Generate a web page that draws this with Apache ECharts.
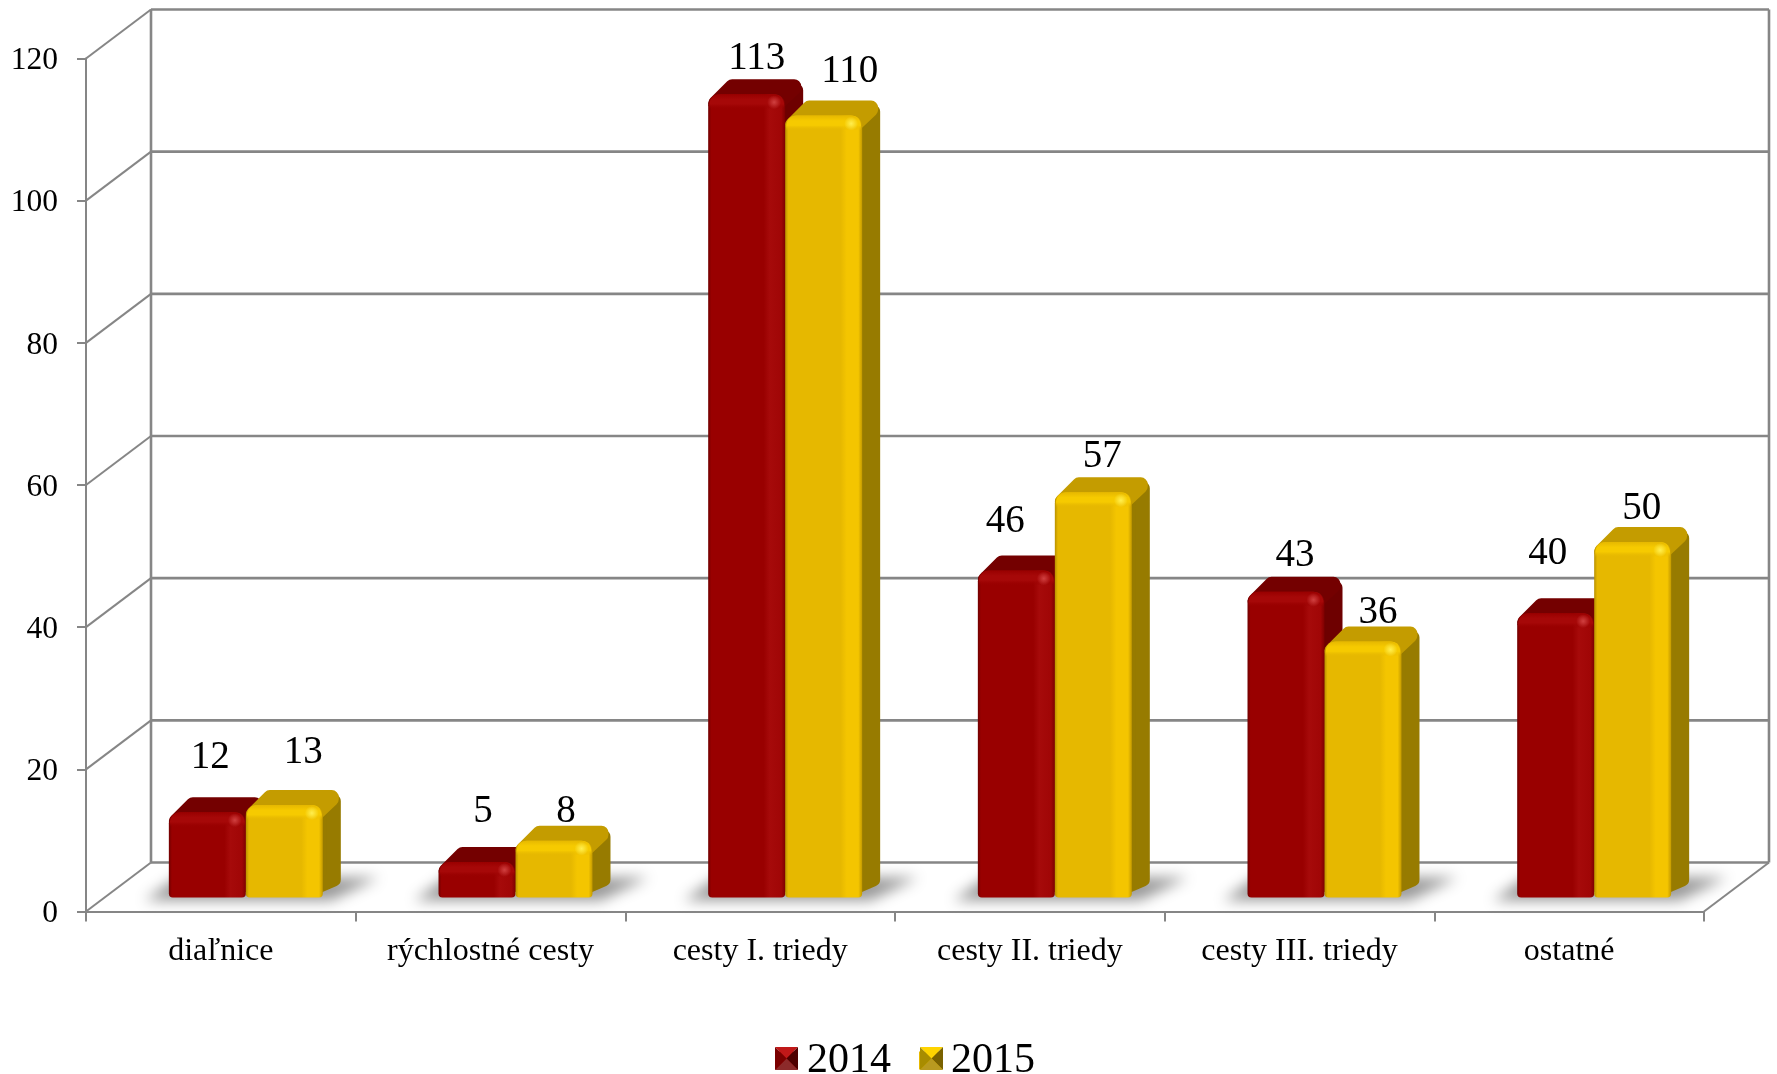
<!DOCTYPE html>
<html>
<head>
<meta charset="utf-8">
<style>html,body{margin:0;padding:0;background:#fff}#c{width:1777px;height:1074px}</style>
<script src="https://cdn.jsdelivr.net/npm/echarts@6/dist/echarts.min.js"></script>
</head>
<body>
<div id="c"></div>
<script>
const categories = ['diaľnice', 'rýchlostné cesty', 'cesty I. triedy', 'cesty II. triedy', 'cesty III. triedy', 'ostatné'];
const values2014 = [12, 5, 113, 46, 43, 40];
const values2015 = [13, 8, 110, 57, 36, 50];
const yTicks = [0, 20, 40, 60, 80, 100, 120];

// manual label placement of the original chart (dx from bar centre, dy above bar back edge)
const labelDx2014 = [3, 6, 10, -11, 9, -8];
const labelDy2014 = [26, 22, 8, 21, 8, 31];
const labelDx2015 = [19, 12, 26, 9, 15, 9];
const labelDy2015 = [24, 1, 16, 8, 1, 5];

const FONT = '"Liberation Serif", "Times New Roman", serif';
const AXIS = '#868686';
const WALL_DX = 65, WALL_DY = -49;
const BAR_SHIFT_X = 25, BAR_SHIFT_Y = -14, DEPTH_X = 18, DEPTH_Y = -15;
const BAR_RATIO = 0.2855;
const LABEL_SIZE = 39, LABEL_TOP_OFFSET = 32.5;

const red = {
  main: '#990000', top: '#740000', side: '#6e0000',
  stops: ['#700000', '#990000', '#990000', '#a60a0a', '#a00606', '#7e0000'],
  bevel: '#a60808', spot: '#d04040'
};
const yellow = {
  main: '#e6b800', top: '#c49c00', side: '#977b00',
  stops: ['#b89000', '#e6b800', '#e6b800', '#f4c500', '#f4c500', '#c49a00'],
  bevel: '#f6ca00', spot: '#ffee50'
};

function roundPoly(points, fill, r) {
  return {
    type: 'polygon', shape: { points },
    style: { fill, stroke: fill, lineWidth: r * 2, lineJoin: 'round' }, silent: true
  };
}

function barRenderer(pal, side, dxs, dys) {
  return function (params, api) {
    const i = api.value(0), v = api.value(1);
    const base = api.coord([i, 0]), tip = api.coord([i, v]);
    const w = api.size([1, 0])[0] * BAR_RATIO;
    const cx = base[0] + BAR_SHIFT_X;
    const x = side < 0 ? cx - w : cx;
    const yB = base[1] + BAR_SHIFT_Y, yT = tip[1] + BAR_SHIFT_Y;
    const h = yB - yT;
    const r = 7;
    const children = [];
    // side face
    children.push(roundPoly([
      [x + w - 10, yT + 10],
      [x + w + DEPTH_X - r, yT + DEPTH_Y + r + 4],
      [x + w + DEPTH_X - r, yB + DEPTH_Y - 3],
      [x + w - 10, yB - r - 2]
    ], pal.side, r));
    // top face
    children.push(roundPoly([
      [x + r, yT + 9],
      [x + DEPTH_X + r - 1, yT + DEPTH_Y + r],
      [x + w + DEPTH_X - r - 2, yT + DEPTH_Y + r],
      [x + w + DEPTH_X - r - 2, yT + DEPTH_Y + r + 2],
      [x + w - 8, yT + 10]
    ], pal.top, r));
    // front face
    const s = pal.stops;
    children.push({
      type: 'rect', silent: true,
      shape: { x, y: yT, width: w, height: h, r: [11, 11, 4, 4] },
      style: {
        fill: {
          type: 'linear', x: 0, y: 0, x2: 1, y2: 0,
          colorStops: [
            { offset: 0, color: s[0] }, { offset: 0.04, color: s[1] },
            { offset: 0.72, color: s[2] }, { offset: 0.8, color: s[3] },
            { offset: 0.95, color: s[4] }, { offset: 1, color: s[5] }
          ]
        }
      }
    });
    // top bevel
    children.push({
      type: 'rect', silent: true,
      shape: { x: x + 1, y: yT, width: w - 2, height: Math.min(15, h), r: [11, 11, 0, 0] },
      style: {
        fill: {
          type: 'linear', x: 0, y: 0, x2: 0, y2: 1,
          colorStops: [
            { offset: 0, color: pal.main }, { offset: 0.35, color: pal.bevel },
            { offset: 0.65, color: pal.bevel }, { offset: 1, color: pal.main + '00' }
          ]
        }
      }
    });
    // corner highlight
    children.push({
      type: 'circle', silent: true,
      shape: { cx: x + w - 11, cy: yT + 8, r: 7 },
      style: {
        fill: {
          type: 'radial', x: 0.5, y: 0.5, r: 0.5,
          colorStops: [
            { offset: 0, color: pal.spot },
            { offset: 1, color: pal.spot + '00' }
          ]
        }
      }
    });
    // value label
    children.push({
      type: 'text', silent: true,
      style: {
        x: x + w / 2 + dxs[i], y: yT + DEPTH_Y - dys[i] - LABEL_TOP_OFFSET,
        text: String(v), fill: '#000',
        font: LABEL_SIZE + 'px ' + FONT, align: 'center', verticalAlign: 'top'
      }
    });
    return { type: 'group', children };
  };
}

function renderFrame(params, api) {
  const cs = params.coordSys;
  const v = api.value(0);
  const p = api.coord([0, v]);
  const xF = cs.x, y = p[1];
  const xB = xF + WALL_DX, yB = y + WALL_DY;
  const ls = { stroke: AXIS, lineWidth: 2, fill: null };
  const back = { stroke: AXIS, lineWidth: 2.6, fill: null };
  const kids = [
    { type: 'line', silent: true, shape: { x1: xF, y1: y, x2: xB, y2: yB }, style: ls },
    { type: 'line', silent: true, shape: { x1: xB, y1: yB, x2: xB + cs.width, y2: yB }, style: back }
  ];
  if (v === 0) {
    const xE = xF + cs.width;
    kids.push({ type: 'line', silent: true, shape: { x1: xE, y1: y, x2: xE + WALL_DX, y2: yB }, style: ls });
    const topY = api.coord([0, yTicks[yTicks.length - 1]])[1] + WALL_DY;
    kids.push({ type: 'line', silent: true, shape: { x1: xB, y1: yB, x2: xB, y2: topY }, style: back });
    kids.push({ type: 'line', silent: true, shape: { x1: xE + WALL_DX, y1: yB, x2: xE + WALL_DX, y2: topY }, style: back });
  }
  return { type: 'group', children: kids };
}

const OFF = 3000; // the shape sits off-canvas so that only its blurred shadow shows
function renderShadow(params, api) {
  const i = api.value(0);
  const base = api.coord([i, 0]);
  const cx = base[0] + BAR_SHIFT_X;
  const w = api.size([1, 0])[0] * BAR_RATIO;
  const yB = base[1] + BAR_SHIFT_Y;
  return {
    type: 'polygon', silent: true,
    shape: { points: [
      [cx - w - 24 - OFF, yB + 3],
      [cx + w + 8 - OFF, yB + 3],
      [cx + w + 56 - OFF, yB - 20],
      [cx - w + 8 - OFF, yB - 20]
    ] },
    style: { fill: '#000', shadowBlur: 14, shadowColor: '#989898', shadowOffsetX: OFF }
  };
}

const LEGEND_X = [775, 920], LEGEND_Y = 1047, LEGEND_S = 23;
function pyramid(x0, colors) {
  const y0 = LEGEND_Y, s = LEGEND_S, c = [x0 + s / 2, y0 + s / 2];
  const corners = [[x0, y0], [x0 + s, y0], [x0 + s, y0 + s], [x0, y0 + s]];
  return corners.map((pt, k) => ({
    type: 'polygon', silent: true, z: 100,
    shape: { points: [pt, corners[(k + 1) % 4], c] },
    style: { fill: colors[k] }
  }));
}

const chart = echarts.init(document.getElementById('c'), null, { renderer: 'canvas', width: 1777, height: 1074 });
const idx = categories.map((_, i) => i);

chart.setOption({
  animation: false,
  backgroundColor: '#ffffff',
  grid: { left: 86, top: 58.5, width: 1618, height: 853, containLabel: false },
  legend: {
    data: ['2014', '2015'],
    left: LEGEND_X[0], top: 1039.5, padding: 0, itemWidth: LEGEND_S, itemHeight: 18, itemGap: 28,
    icon: 'rect', selectedMode: false,
    textStyle: { fontFamily: FONT, fontSize: 42, color: '#000', padding: [0, 0, 0, 4] }
  },
  graphic: pyramid(LEGEND_X[0], ['#c01818', '#4e0000', '#8c2a2a', '#7a0000'])
    .concat(pyramid(LEGEND_X[1], ['#ffd400', '#7a6200', '#b89a20', '#a88c00'])),
  xAxis: {
    type: 'category', data: categories,
    axisLine: { show: true, lineStyle: { color: AXIS, width: 2 } },
    axisTick: { show: true, length: 10, alignWithLabel: false, lineStyle: { color: AXIS, width: 2 } },
    axisLabel: { fontFamily: FONT, fontSize: 32, color: '#000', margin: 24, interval: 0 },
    splitLine: { show: false }
  },
  yAxis: {
    type: 'value', min: 0, max: 120, interval: 20,
    axisLine: { show: true, lineStyle: { color: AXIS, width: 2 } },
    axisTick: { show: true, length: 9, lineStyle: { color: AXIS, width: 2 } },
    axisLabel: {
      margin: 28, formatter: '{t|{value}}',
      rich: { t: { fontFamily: FONT, fontSize: 31.5, color: '#000', padding: [5, 0, 0, 0] } }
    },
    splitLine: { show: false }
  },
  series: [
    { type: 'custom', name: 'frame', coordinateSystem: 'cartesian2d', clip: false, z: 1, silent: true,
      data: yTicks.map(t => [t]), encode: { y: 0 }, renderItem: renderFrame },
    { type: 'custom', name: 'shadow', coordinateSystem: 'cartesian2d', clip: false, z: 2, silent: true,
      data: idx.map(i => [i]), encode: { x: 0 }, renderItem: renderShadow },
    { type: 'custom', name: '2014', coordinateSystem: 'cartesian2d', clip: false, z: 3,
      itemStyle: { color: '#990000' },
      data: values2014.map((v, i) => [i, v]), encode: { x: 0, y: 1 },
      renderItem: barRenderer(red, -1, labelDx2014, labelDy2014) },
    { type: 'custom', name: '2015', coordinateSystem: 'cartesian2d', clip: false, z: 4,
      itemStyle: { color: '#e6b800' },
      data: values2015.map((v, i) => [i, v]), encode: { x: 0, y: 1 },
      renderItem: barRenderer(yellow, 1, labelDx2015, labelDy2015) }
  ]
});
</script>
</body>
</html>
